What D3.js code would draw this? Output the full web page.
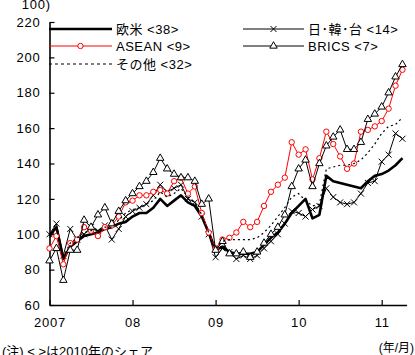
<!DOCTYPE html>
<html><head><meta charset="utf-8">
<script src="https://cdn.jsdelivr.net/npm/d3@7/dist/d3.min.js"></script>
<style>
html,body{margin:0;padding:0;background:#fff;}
svg{display:block;}
text{font-family:"Liberation Sans",Arial,"Noto Sans CJK JP",sans-serif;fill:#000;}
</style></head>
<body>
<svg id="c" width="415" height="355"></svg>
<script>
// Monthly data, 2007/01 .. 2011/04 (index 2007/1 = 100)
const months = d3.range(52);
const westSeries = [99,104,86,93,96,99,100,101,103,104,106,107,110,112,112,115,120,116,119,122,118,116,110,101,
  91,93,90,89,89,89,90,94,98,101,106,112,116,120,109,111,133,130,129,128,127,126,130,133,134,136,139,143];
const jktSeries = [100,106,88,103,97,100,104,102,105,97,103,110,113,115,117,122,128,124,126,128,120,118,110,100,
  87,92,90,86,88,86,88,92,96,100,106,113,112,110,114,116,126,121,118,117,118,123,129,130,141,145,157,154];
const aseanSeries = [92,99,83,95,97,104,102,99,104,105,110,118,119,122,122,124,125,123,130,132,123,127,112,101,
  92,97,98,101,107,104,107,116,124,128,132,152,145,148,131,143,158,151,144,137,140,158,159,161,164,171,184,193];
const bricsSeries = [85,92,74,91,91,108,104,111,115,106,113,119,123,127,130,135,143,137,134,132,132,130,117,120,
  91,96,89,89,90,87,90,95,100,104,111,127,137,142,127,140,150,155,159,148,148,152,165,168,172,180,189,196];
const otherSeries = [98,103,87,95,98,101,102,102,104,104,108,112,114,115,117,119,124,121,123,126,121,118,111,101,
  92,96,97,97,97,97,98,101,105,110,115,121,123,119,116,117,137,138,139,139,140,142,146,151,157,161,162,166];
const seriesNames = ["欧米 <38>","日･韓･台 <14>","ASEAN <9>","BRICS <7>","その他 <32>"];
const yTicks = [60,80,100,120,140,160,180,200,220];
const xTickIdx = [0,12,24,36,48];
const xTickLabels = ["2007","08","09","10","11"];

const svg = d3.select("#c");
const x = d3.scaleLinear().domain([0,51.6]).range([49.5,406.6]);
const y = d3.scaleLinear().domain([60,220]).range([305,22]);

// axes
const yAxis = d3.axisLeft(y).tickValues(yTicks).tickSize(-5).tickPadding(9).tickSizeOuter(0);
const gy = svg.append("g").attr("transform",`translate(${x(0)},0)`).call(yAxis);
gy.select(".domain").attr("stroke","#000").attr("stroke-width",1.6);
gy.selectAll(".tick line").attr("stroke","#000").attr("stroke-width",1.2);
gy.selectAll(".tick text").attr("font-size",13).attr("letter-spacing","0.8px").attr("font-family","Liberation Sans, Arial, sans-serif");

const xAxis = d3.axisBottom(x).tickValues(xTickIdx).tickFormat((d,i)=>xTickLabels[i]).tickSize(-5).tickPadding(13).tickSizeOuter(0);
const gx = svg.append("g").attr("transform",`translate(0,${y(60)})`).call(xAxis);
gx.select(".domain").attr("stroke","#000").attr("stroke-width",1.6);
gx.selectAll(".tick line").attr("stroke","#000").attr("stroke-width",1.2);
gx.selectAll(".tick text").attr("font-size",13).attr("letter-spacing","0.8px").attr("font-family","Liberation Sans, Arial, sans-serif");

const line = d3.line().x((d,i)=>x(i)).y(d=>y(d));
const plot = svg.append("g");

const triPath = d3.symbol().type(d3.symbolTriangle).size(24)();
const crossPath = "M-3,-3L3,3M3,-3L-3,3";

// 欧米
plot.append("path").datum(westSeries).attr("d",line).attr("fill","none").attr("stroke","#000").attr("stroke-width",2.6).attr("stroke-linejoin","round");
// 日韓台
plot.append("path").datum(jktSeries).attr("d",line).attr("fill","none").attr("stroke","#000").attr("stroke-width",1);
plot.selectAll(".jkt").data(jktSeries).join("path").attr("class","jkt")
  .attr("transform",(d,i)=>`translate(${x(i)},${y(d)})`).attr("d",crossPath).attr("stroke","#000").attr("stroke-width",1).attr("fill","none");
// ASEAN
plot.append("path").datum(aseanSeries).attr("d",line).attr("fill","none").attr("stroke","#ff0000").attr("stroke-width",1);
plot.selectAll(".asean").data(aseanSeries).join("circle").attr("class","asean")
  .attr("cx",(d,i)=>x(i)).attr("cy",d=>y(d)).attr("r",2.7).attr("fill","#fff").attr("stroke","#ff0000").attr("stroke-width",1);
// BRICS
plot.append("path").datum(bricsSeries).attr("d",line).attr("fill","none").attr("stroke","#000").attr("stroke-width",1);
plot.selectAll(".brics").data(bricsSeries).join("path").attr("class","brics")
  .attr("transform",(d,i)=>`translate(${x(i)},${y(d)})`).attr("d",triPath).attr("fill","#fff").attr("stroke","#000").attr("stroke-width",1);
// その他
plot.append("path").datum(otherSeries).attr("d",line).attr("fill","none").attr("stroke","#000").attr("stroke-width",1.2).attr("stroke-dasharray","2,3");

// legend
const lg = svg.append("g");
function legendItem(x0, x1, yy, label, kind){
  const g = lg.append("g");
  if(kind==="west") g.append("line").attr("x1",x0).attr("x2",x1).attr("y1",yy).attr("y2",yy).attr("stroke","#000").attr("stroke-width",2.6);
  if(kind==="jkt"){
    g.append("line").attr("x1",x0).attr("x2",x1).attr("y1",yy).attr("y2",yy).attr("stroke","#000").attr("stroke-width",1);
    g.append("path").attr("transform",`translate(${(x0+x1)/2},${yy})`).attr("d",crossPath).attr("stroke","#000").attr("fill","none");
  }
  if(kind==="asean"){
    g.append("line").attr("x1",x0).attr("x2",x1).attr("y1",yy).attr("y2",yy).attr("stroke","#ff0000").attr("stroke-width",1);
    g.append("circle").attr("cx",(x0+x1)/2).attr("cy",yy).attr("r",2.7).attr("fill","#fff").attr("stroke","#ff0000");
  }
  if(kind==="brics"){
    g.append("line").attr("x1",x0).attr("x2",x1).attr("y1",yy).attr("y2",yy).attr("stroke","#000").attr("stroke-width",1);
    g.append("path").attr("transform",`translate(${(x0+x1)/2},${yy})`).attr("d",triPath).attr("fill","#fff").attr("stroke","#000");
  }
  if(kind==="other") g.append("line").attr("x1",x0).attr("x2",x1).attr("y1",yy).attr("y2",yy).attr("stroke","#000").attr("stroke-width",1.2).attr("stroke-dasharray","3,3");
  g.append("text").attr("x",x1+4).attr("y",yy+4.5).attr("font-size",13).attr("letter-spacing","0.5px").text(label);
}
legendItem(49,112,29,seriesNames[0],"west");
legendItem(243,304,29,seriesNames[1],"jkt");
legendItem(49,112,46,seriesNames[2],"asean");
legendItem(243,304,46,seriesNames[3],"brics");
legendItem(49,112,64,seriesNames[4],"other");

// extra texts
svg.append("text").attr("x",51).attr("y",9).attr("text-anchor","end").attr("font-size",13).attr("letter-spacing","0.8px").text("100)");
svg.append("text").attr("x",414).attr("y",352).attr("text-anchor","end").attr("font-size",12).text("(年/月)");
svg.append("text").attr("x",2).attr("y",356).attr("font-size",13).text("(注) < >は2010年のシェア");
</script>
</body></html>
